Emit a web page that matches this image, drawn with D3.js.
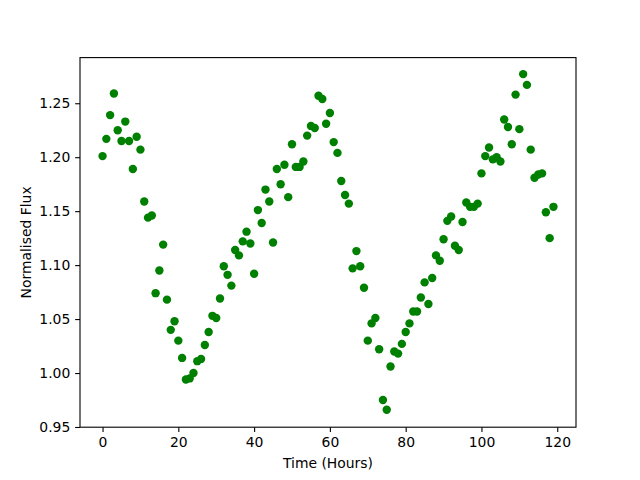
<!DOCTYPE html>
<html>
<head>
<meta charset="utf-8">
<script src="https://cdn.jsdelivr.net/npm/d3@7"></script>
<style>
  html, body { margin: 0; padding: 0; background: #fff; }
  svg { display: block; font-family: "DejaVu Sans", sans-serif; }
</style>
</head>
<body>
<div id="chart"></div>
<script>
// time in hours, one sample per hour
const hours = d3.range(0, 120);
const flux = [
  1.201, 1.217, 1.239, 1.259, 1.225, 1.215, 1.233, 1.215, 1.189, 1.219,
  1.207, 1.159, 1.144, 1.146, 1.074, 1.095, 1.119, 1.068, 1.040, 1.048,
  1.030, 1.014, 0.994, 0.995, 1.000, 1.011, 1.013, 1.026, 1.038, 1.053,
  1.051, 1.069, 1.099, 1.091, 1.081, 1.114, 1.109, 1.122, 1.131, 1.120,
  1.092, 1.151, 1.139, 1.170, 1.159, 1.121, 1.189, 1.175, 1.193, 1.163,
  1.212, 1.191, 1.191, 1.196, 1.220, 1.229, 1.227, 1.257, 1.254, 1.231,
  1.241, 1.214, 1.204, 1.178, 1.165, 1.157, 1.097, 1.113, 1.099, 1.079,
  1.030, 1.046, 1.051, 1.022, 0.975, 0.966, 1.006, 1.020, 1.018, 1.027,
  1.038, 1.046, 1.057, 1.057, 1.070, 1.084, 1.064, 1.088, 1.109, 1.104,
  1.124, 1.141, 1.145, 1.118, 1.114, 1.140, 1.158, 1.154, 1.154, 1.157,
  1.185, 1.201, 1.209, 1.198, 1.200, 1.196, 1.235, 1.228, 1.212, 1.258,
  1.226, 1.277, 1.267, 1.207, 1.181, 1.184, 1.185, 1.149, 1.125, 1.154
];
const xTicks = [0, 20, 40, 60, 80, 100, 120];
const yTicks = [0.95, 1.00, 1.05, 1.10, 1.15, 1.20, 1.25];
const xLimits = [-5.95, 124.95];
const yLimits = [0.9498, 1.2923];

const width = 640, height = 480;
const margin = { top: 57.6, right: 64, bottom: 52.8, left: 80 };

const svg = d3.select('#chart').append('svg')
  .attr('width', width)
  .attr('height', height);

const x = d3.scaleLinear().domain(xLimits).range([margin.left, width - margin.right]);
const y = d3.scaleLinear().domain(yLimits).range([height - margin.bottom, margin.top]);

const tickLen = 4.86;

const xAxis = svg.append('g')
  .attr('transform', `translate(0,${height - margin.bottom})`)
  .call(d3.axisBottom(x).tickValues(xTicks).tickFormat(d3.format('d'))
    .tickSizeInner(tickLen).tickSizeOuter(0).tickPadding(4.86));
xAxis.select('.domain').remove();

const yAxis = svg.append('g')
  .attr('transform', `translate(${margin.left},0)`)
  .call(d3.axisLeft(y).tickValues(yTicks).tickFormat(d3.format('.2f'))
    .tickSizeInner(tickLen).tickSizeOuter(0).tickPadding(4.86));
yAxis.select('.domain').remove();

svg.selectAll('.tick line').attr('stroke', '#000').attr('stroke-width', 1.1);
svg.selectAll('.tick text')
  .attr('font-size', 13.9)
  .attr('font-family', '"DejaVu Sans", sans-serif')
  .attr('fill', '#000');

// frame around plot area
svg.append('rect')
  .attr('x', margin.left)
  .attr('y', margin.top)
  .attr('width', width - margin.left - margin.right)
  .attr('height', height - margin.top - margin.bottom)
  .attr('fill', 'none')
  .attr('stroke', '#000')
  .attr('stroke-width', 1.1);

svg.append('g')
  .selectAll('circle')
  .data(hours.map((h, i) => ({ h, f: flux[i] })))
  .enter()
  .append('circle')
  .attr('cx', d => x(d.h))
  .attr('cy', d => y(d.f))
  .attr('r', 4.2)
  .attr('fill', '#008000');

svg.append('text')
  .attr('x', (margin.left + width - margin.right) / 2)
  .attr('y', 468)
  .attr('text-anchor', 'middle')
  .attr('font-size', 13.9)
  .text('Time (Hours)');

svg.append('text')
  .attr('transform', `translate(31,${(margin.top + height - margin.bottom) / 2}) rotate(-90)`)
  .attr('text-anchor', 'middle')
  .attr('font-size', 13.9)
  .text('Normalised Flux');
</script>
</body>
</html>
